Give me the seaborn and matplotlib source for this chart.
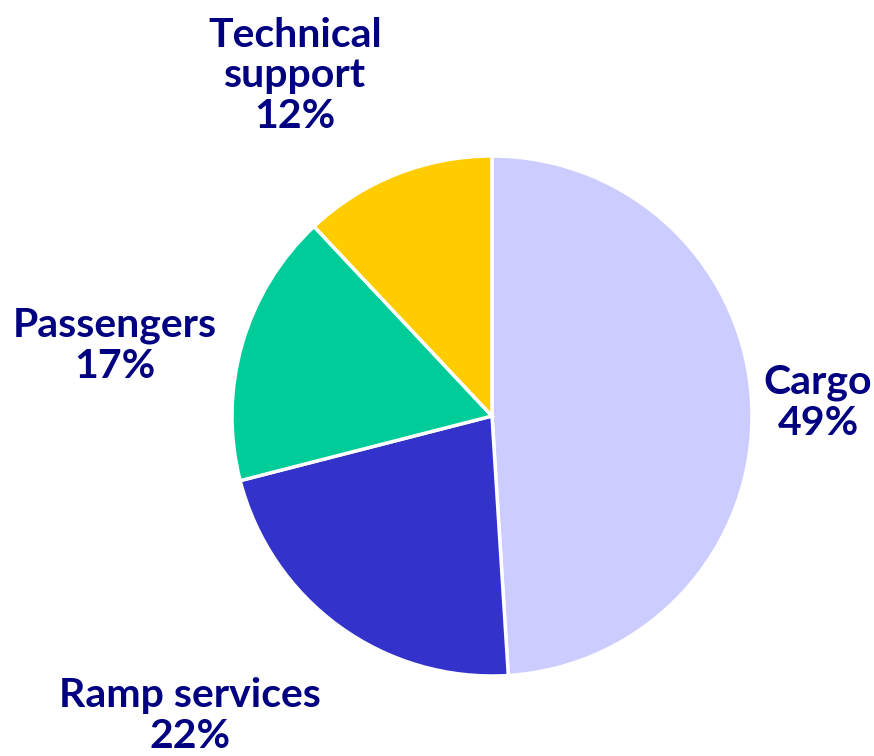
import matplotlib
matplotlib.use("Agg")
import matplotlib.pyplot as plt
import seaborn as sns

SEGMENTS = ["Cargo", "Ramp services", "Passengers", "Technical\nsupport"]
SHARES = [49, 22, 17, 12]
COLORS = ["#CCCCFF", "#3333CC", "#00CC99", "#FFCC00"]
TEXT_COLOR = "#000080"

# label anchor points (pixel coords, y from top), layout only
LABEL_POS = [(818, 403), (190, 716), (115, 346), (295, 76)]

sns.set_theme(style="white")
plt.rcParams["font.family"] = ["Lato", "DejaVu Sans"]

W, H = 874, 756
fig = plt.figure(figsize=(W / 100, H / 100), dpi=100)
ax = fig.add_axes([0, 0, 1, 1])

ax.pie(
    SHARES,
    colors=COLORS,
    startangle=90,
    counterclock=False,
    center=(492, H - 416),
    radius=260,
    wedgeprops={"edgecolor": "white", "linewidth": 2.5},
    frame=True,
)
ax.set_xlim(0, W)
ax.set_ylim(0, H)
ax.set_aspect("equal")
ax.axis("off")

for name, share, (px, py) in zip(SEGMENTS, SHARES, LABEL_POS):
    ax.text(px, H - py, f"{name}\n{share}%", ha="center", va="center",
            fontsize=29.5, fontweight="bold", color=TEXT_COLOR, linespacing=1.12)

fig.savefig("out.png", dpi=100)
